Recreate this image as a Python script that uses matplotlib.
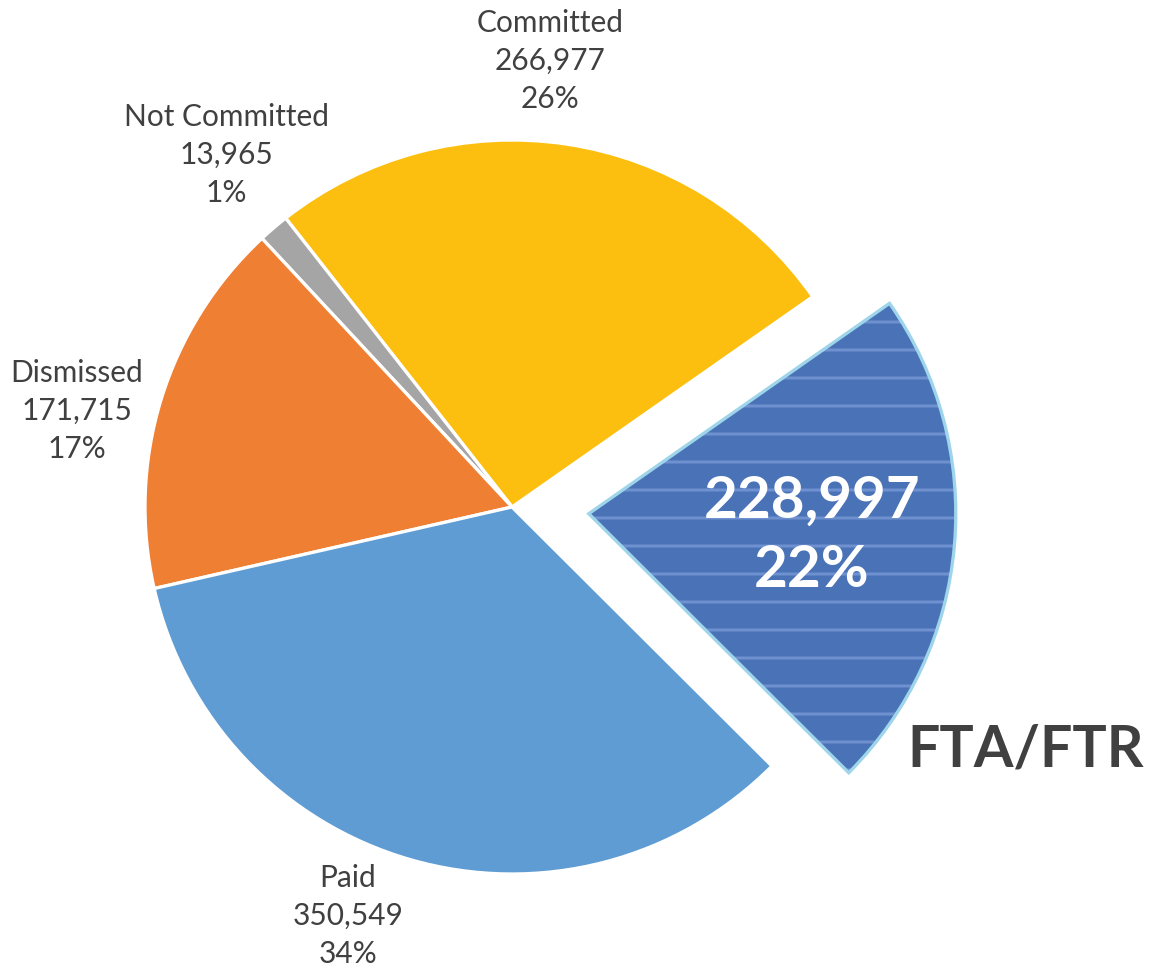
import matplotlib
matplotlib.use("Agg")
import matplotlib.pyplot as plt
from matplotlib.patches import Wedge

categories = ["FTA/FTR", "Committed", "Not Committed", "Dismissed", "Paid"]
values = [228997, 266977, 13965, 171715, 350549]
value_labels = ["228,997", "266,977", "13,965", "171,715", "350,549"]
pct_labels = ["22%", "26%", "1%", "17%", "34%"]
colors = ["#4a72b7", "#fcbf10", "#a5a5a5", "#ee7f33", "#5e9cd3"]

DPI = 168
W, H = 1149, 969
plt.rcParams['font.family'] = ['Lato', 'DejaVu Sans']
plt.rcParams['hatch.linewidth'] = 1.3

fig = plt.figure(figsize=(W / DPI, H / DPI), dpi=DPI)
ax = fig.add_axes([0, 0, 1, 1])
R = 367.0
cx, cy = 512.0, 507.0

def px(x, y):
    return (x - cx) / R, (cy - y) / R

wedges, _ = ax.pie(values, colors=colors, startangle=-44.9, counterclock=True,
                   explode=[0.21, 0, 0, 0, 0], radius=1.0,
                   wedgeprops=dict(edgecolor="white", linewidth=1.4))
fta = wedges[0]
fta.set_edgecolor("#7091d0")
fta.set_linewidth(0)
fta.set_hatch("-")
outline = Wedge(fta.center, fta.r, fta.theta1, fta.theta2, fill=False,
                edgecolor="#9ed5ea", linewidth=1.4, zorder=fta.get_zorder() + 0.1)
ax.add_patch(outline)

ax.set_aspect("equal")
ax.set_xlim(-cx / R, (W - cx) / R)
ax.set_ylim(-(H - cy) / R, cy / R)
ax.axis("off")

txt = "#404040"
label_pos = {1: (550, 61), 2: (226, 155), 3: (77, 411), 4: (348, 916)}
for i, (x, y) in label_pos.items():
    ax.text(*px(x, y), f"{categories[i]}\n{value_labels[i]}\n{pct_labels[i]}",
            ha="center", va="center", fontsize=12.8, color=txt, linespacing=1.45)

ax.text(*px(812, 536), f"{value_labels[0]}\n{pct_labels[0]}", ha="center", va="center",
        fontsize=25, color="white", fontweight="bold", linespacing=1.38)
ax.text(*px(1026, 750), categories[0], ha="center", va="center",
        fontsize=24.5, color=txt, fontweight="bold")

fig.savefig("out.png", dpi=DPI)
